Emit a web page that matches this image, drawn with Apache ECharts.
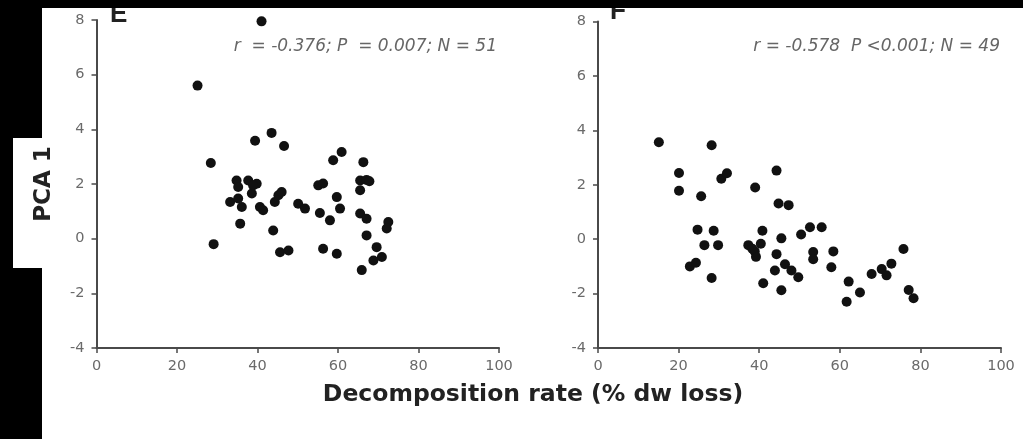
<!DOCTYPE html>
<html>
<head>
<meta charset="utf-8">
<script src="https://cdn.jsdelivr.net/npm/echarts@6/dist/echarts.min.js"></script>
<style>html,body{margin:0;padding:0;background:#000;}#c{width:1023px;height:439px;}</style>
</head>
<body>
<div id="c"></div>
<script>
// Panel E: decomposition rate (% dw loss) vs PCA 1
const decompE = [41.0, 25.1, 28.4, 29.1, 43.5, 39.4, 46.6, 58.8, 60.9, 66.3,
  65.5, 67.1, 65.5, 65.5, 67.1, 67.1, 72.5, 72.1, 69.6, 70.9,
  68.8, 65.9, 59.7, 60.5, 55.5, 58.0, 55.1, 56.3, 56.3, 59.7,
  50.1, 51.8, 45.6, 47.7, 43.9, 44.3, 45.2, 46.0, 40.6, 41.4,
  35.7, 33.2, 36.1, 35.2, 34.8, 35.2, 37.7, 39.8, 38.6, 38.9, 67.8];
const pcaE = [7.95, 5.6, 2.77, -0.2, 3.87, 3.58, 3.39, 2.87, 3.17, 2.8,
  2.13, 2.15, 1.77, 0.92, 0.73, 0.12, 0.61, 0.37, -0.31, -0.67,
  -0.8, -1.15, 1.52, 1.1, 0.94, 0.67, 1.95, 2.02, -0.37, -0.55,
  1.28, 1.1, -0.5, -0.43, 0.3, 1.34, 1.59, 1.71, 1.16, 1.04,
  0.55, 1.34, 1.16, 1.47, 2.13, 1.89, 2.13, 2.01, 1.65, 1.95, 2.1];

// Panel F
const decompF = [15.1, 28.2, 20.1, 20.1, 25.6, 30.6, 32.0, 39.0, 44.3, 44.8,
  47.3, 24.7, 28.7, 26.4, 29.8, 22.8, 24.3, 28.2, 37.3, 40.4,
  38.9, 39.2, 40.8, 41.0, 45.5, 44.3, 43.9, 45.5, 46.4, 48.0,
  49.7, 50.4, 52.6, 55.5, 53.4, 53.4, 58.4, 57.9, 62.2, 61.7,
  65.0, 67.9, 70.4, 71.6, 72.8, 75.8, 77.1, 78.3, 38.3];
const pcaF = [3.56, 3.45, 2.43, 1.78, 1.58, 2.22, 2.42, 1.9, 2.52, 1.31,
  1.25, 0.35, 0.31, -0.22, -0.22, -1.0, -0.87, -1.43, -0.22, -0.17,
  -0.45, -0.65, 0.31, -1.62, 0.03, -0.55, -1.15, -1.88, -0.92, -1.15,
  -1.4, 0.17, 0.44, 0.44, -0.47, -0.74, -0.45, -1.03, -1.56, -2.3,
  -1.96, -1.28, -1.1, -1.33, -0.9, -0.36, -1.87, -2.17, -0.35];

const xTicks = [0, 20, 40, 60, 80, 100];
const yTicks = [-4, -2, 0, 2, 4, 6, 8];
const panelLetters = ['E', 'F'];
const statsText = ['r  = -0.376; P  = 0.007; N = 51', 'r = -0.578  P <0.001; N = 49'];
const xTitle = 'Decomposition rate (% dw loss)';
const yTitle = 'PCA 1';

const pairs = (xs, ys) => xs.map((v, i) => [v, ys[i]]);
const FONT = 'DejaVu Sans';

function xAxisFor(idx) {
  return {
    type: 'value', gridIndex: idx,
    min: xTicks[0], max: xTicks[xTicks.length - 1], interval: xTicks[1] - xTicks[0],
    axisLine: { show: true, onZero: false, lineStyle: { color: '#4a4a4a', width: 2 } },
    axisTick: { show: true, length: 5, lineStyle: { color: '#4a4a4a', width: 1.5 } },
    axisLabel: { color: '#6a6a6a', fontFamily: FONT, fontSize: 14.5, margin: 11 },
    splitLine: { show: false }
  };
}
function yAxisFor(idx, name) {
  return {
    type: 'value', gridIndex: idx,
    min: yTicks[0], max: yTicks[yTicks.length - 1], interval: yTicks[1] - yTicks[0],
    name: name || '', nameLocation: 'middle', nameRotate: 90, nameGap: 41,
    nameTextStyle: { color: '#222', fontFamily: FONT, fontWeight: 'bold', fontSize: 23 },
    axisLine: { show: true, onZero: false, lineStyle: { color: '#4a4a4a', width: 2 } },
    axisTick: { show: true, length: 5, lineStyle: { color: '#4a4a4a', width: 1.5 } },
    axisLabel: { color: '#6a6a6a', fontFamily: FONT, fontSize: 14.5, margin: 12 },
    splitLine: { show: false }
  };
}

const dotStyle = { color: '#111', opacity: 1 };
const chart = echarts.init(document.getElementById('c'), null, { renderer: 'canvas' });
chart.setOption({
  backgroundColor: '#000',
  animation: false,
  grid: [
    { left: 96.5, right: 524, top: 20, bottom: 91 },
    { left: 598, right: 22, top: 21.5, bottom: 91 }
  ],
  xAxis: [xAxisFor(0), xAxisFor(1)],
  yAxis: [yAxisFor(0, yTitle), yAxisFor(1, '')],
  series: [
    { type: 'scatter', xAxisIndex: 0, yAxisIndex: 0, data: pairs(decompE, pcaE),
      symbol: 'circle', symbolSize: 10, itemStyle: dotStyle },
    { type: 'scatter', xAxisIndex: 1, yAxisIndex: 1, data: pairs(decompF, pcaF),
      symbol: 'circle', symbolSize: 10, itemStyle: dotStyle }
  ],
  graphic: [
    { type: 'rect', z: -100, shape: { x: 42, y: 0, width: 981, height: 439 }, style: { fill: '#fff' } },
    { type: 'rect', z: -100, shape: { x: 13, y: 138, width: 30, height: 130 }, style: { fill: '#fff' } },
    { type: 'text', z: 50, left: 110, top: 2, style: { text: panelLetters[0], fill: '#222', font: 'bold 26px "Liberation Sans"' } },
    { type: 'text', z: 50, left: 610, top: -1, style: { text: panelLetters[1], fill: '#222', font: 'bold 26px "Liberation Sans"' } },
    { type: 'rect', z: 100, shape: { x: 0, y: 0, width: 1023, height: 8 }, style: { fill: '#000' } },
    { type: 'text', z: 50, x: 497, y: 47, style: { text: statsText[0], fill: '#666', align: 'right', verticalAlign: 'middle', font: 'italic 17px "DejaVu Sans"' } },
    { type: 'text', z: 50, x: 1000, y: 47, style: { text: statsText[1], fill: '#666', align: 'right', verticalAlign: 'middle', font: 'italic 17px "DejaVu Sans"' } },
    { type: 'text', z: 50, x: 533, y: 395, style: { text: xTitle, fill: '#222', align: 'center', verticalAlign: 'middle', font: 'bold 23.5px "DejaVu Sans"' } }
  ]
});
</script>
</body>
</html>
